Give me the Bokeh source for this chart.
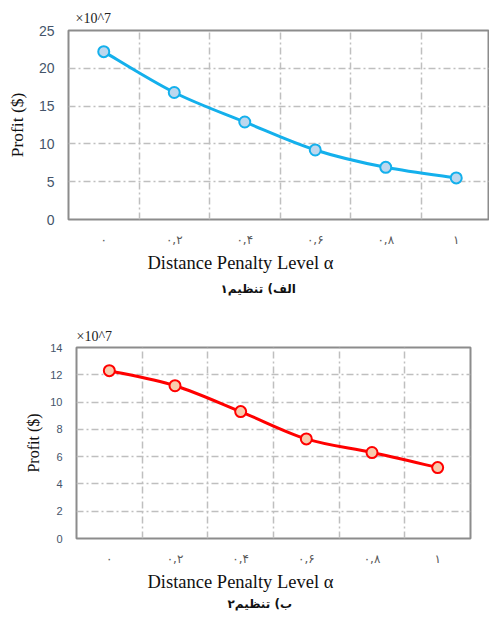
from bokeh.plotting import figure
from bokeh.models import FixedTicker, Range1d, Title, ColumnDataSource
from bokeh.embed import file_html
from bokeh.resources import INLINE

# ---- data ----
alpha = [0.0, 0.2, 0.4, 0.6, 0.8, 1.0]
alpha_labels = ["۰", "۰,۲", "۰,۴", "۰,۶", "۰,۸", "۱"]
profit_setting1 = [22.2, 16.8, 12.9, 9.2, 6.9, 5.5]   # x10^7
profit_setting2 = [12.3, 11.2, 9.3, 7.3, 6.3, 5.2]    # x10^7
y_ticks_1 = [0, 5, 10, 15, 20, 25]
y_ticks_2 = [0, 2, 4, 6, 8, 10, 12, 14]
grid_x = [0.1, 0.3, 0.5, 0.7, 0.9]
x_title = "Distance Penalty Level α"
y_title = "Profit ($)"
scale_note = "×10^7"
caption_1 = "الف) تنظیم۱"
caption_2 = "ب) تنظیم۲"


def smooth_source(xs, ys):
    n = len(xs)
    d = dict(x0=[], y0=[], x1=[], y1=[], cx0=[], cy0=[], cx1=[], cy1=[])
    for i in range(n - 1):
        xm, ym = (xs[i - 1], ys[i - 1]) if i > 0 else (xs[i], ys[i])
        xp, yp = (xs[i + 2], ys[i + 2]) if i + 2 < n else (xs[i + 1], ys[i + 1])
        d["x0"].append(xs[i]); d["y0"].append(ys[i])
        d["x1"].append(xs[i + 1]); d["y1"].append(ys[i + 1])
        d["cx0"].append(xs[i] + (xs[i + 1] - xm) / 6)
        d["cy0"].append(ys[i] + (ys[i + 1] - ym) / 6)
        d["cx1"].append(xs[i + 1] - (xp - xs[i]) / 6)
        d["cy1"].append(ys[i + 1] - (yp - ys[i]) / 6)
    return ColumnDataSource(d)


def make_chart(ys, yticks, ymax, width, height, x_end, mb_left, mb_right,
               mb_top, mb_bottom, line_color, fill_color, tick_fs, ylab_fs,
               ylab_standoff, note_offset, note_standoff, xt_offset,
               xt_standoff, cap_offset, cap_standoff, caption):
    p = figure(width=width, height=height, output_backend="svg",
               toolbar_location=None,
               x_range=Range1d(-0.1, x_end), y_range=Range1d(0, ymax),
               min_border_left=mb_left, min_border_right=mb_right,
               min_border_top=mb_top, min_border_bottom=mb_bottom)
    p.background_fill_color = "white"
    p.border_fill_color = "white"
    p.outline_line_color = "#8c8c8c"
    p.outline_line_width = 2

    # title (scale note)
    p.title.text = scale_note
    p.title.align = "left"
    p.title.offset = note_offset
    p.title.text_font = "Liberation Serif"
    p.title.text_font_size = "14px"
    p.title.text_font_style = "normal"
    p.title.text_color = "#222222"
    p.title.standoff = note_standoff

    # x axis
    xa = p.xaxis[0]
    xa.ticker = FixedTicker(ticks=alpha)
    xa.major_label_overrides = {a: l for a, l in zip(alpha, alpha_labels)}
    xa.major_label_text_font = "DejaVu Sans"
    xa.major_label_text_font_size = "12px"
    xa.major_label_text_color = "#595959"
    xa.major_label_standoff = 13
    xa.major_tick_in = 0
    xa.major_tick_out = 0
    xa.minor_tick_in = 0
    xa.minor_tick_out = 0
    xa.axis_line_color = None

    # y axis
    ya = p.yaxis[0]
    ya.ticker = FixedTicker(ticks=yticks)
    ya.major_label_text_font = "Liberation Sans"
    ya.major_label_text_font_size = tick_fs
    ya.major_label_text_color = "#44546a"
    ya.major_label_standoff = 14
    ya.major_tick_in = 0
    ya.major_tick_out = 0
    ya.minor_tick_in = 0
    ya.minor_tick_out = 0
    ya.axis_line_color = None
    ya.axis_label = y_title
    ya.axis_label_text_font = "Liberation Serif"
    ya.axis_label_text_font_size = ylab_fs
    ya.axis_label_text_font_style = "normal"
    ya.axis_label_text_color = "#111111"
    ya.axis_label_standoff = ylab_standoff

    # grids
    p.xgrid.ticker = FixedTicker(ticks=grid_x)
    p.ygrid.ticker = FixedTicker(ticks=yticks[1:-1])
    for g in (p.xgrid[0], p.ygrid[0]):
        g.grid_line_color = "#bfbfbf"
        g.grid_line_width = 1.5
        g.grid_line_dash = "7 3 2 3"

    # below titles: axis title and caption
    t1 = Title(text=x_title, align="left", offset=xt_offset,
               text_font="Liberation Serif", text_font_size="18.5px",
               text_font_style="normal", text_color="#111111",
               standoff=xt_standoff)
    p.add_layout(t1, "below")
    t2 = Title(text=caption, align="left", offset=cap_offset,
               text_font="DejaVu Sans", text_font_size="12px",
               text_font_style="bold", text_color="#111111",
               standoff=cap_standoff)
    p.add_layout(t2, "below")

    # series
    src = smooth_source(alpha, ys)
    p.bezier(x0="x0", y0="y0", x1="x1", y1="y1", cx0="cx0", cy0="cy0",
             cx1="cx1", cy1="cy1", source=src, line_color=line_color,
             line_width=3)
    p.scatter(alpha, ys, size=11, marker="circle", fill_color=fill_color,
              line_color=line_color, line_width=2)
    return p


p1 = make_chart(profit_setting1, y_ticks_1, 25, 489, 305,
                -0.1 + 421 / 352.5, 68, 0, 30, 86,
                "#14b0ec", "#bdd7ee", "14px", "17.5px", 9,
                7, 9, 79, 3, 152, 10, caption_1)
p2 = make_chart(profit_setting2, y_ticks_2, 14, 480, 313,
                1.1, 76, 10, 42, 80,
                "#ff0000", "#f8cbad", "11px", "16px", 5,
                0, 7, 71, 3, 151, 3, caption_2)

open("out.html", "w").write(file_html([p1, p2], INLINE))
